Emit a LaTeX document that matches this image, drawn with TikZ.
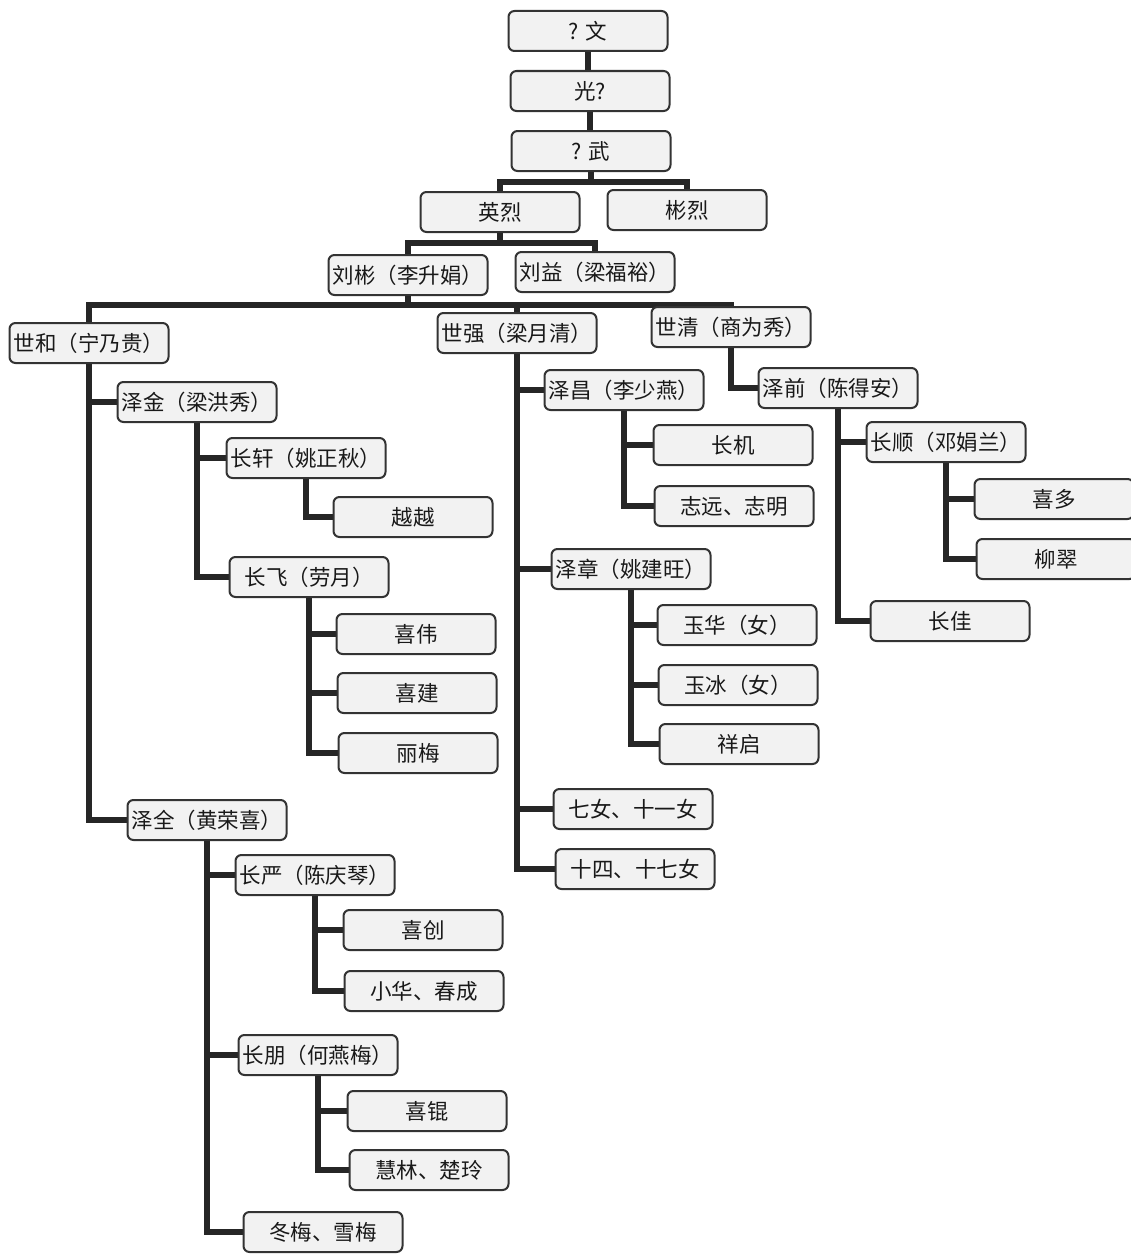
\documentclass[tikz,border=0pt]{standalone}
\usepackage{fontspec}
\newfontfamily\cjk{Noto Sans CJK SC}
\usetikzlibrary{backgrounds}
\tikzset{
  box/.style={draw=black!80, line width=2pt, rounded corners=6pt, fill=gray!10,
    minimum width=159pt, minimum height=40pt, inner xsep=1pt, inner ysep=2pt,
    font=\cjk\fontsize{21.5}{23}\selectfont, text=black!90},
  conn/.style={line width=5.5pt, draw=black!85, line join=miter}
}
\begin{document}
\begin{tikzpicture}[x=1pt,y=-1pt]
\useasboundingbox (0,0) rectangle (1131,1255);
% top lineage
\node[box] (wen) at (588,31) {? 文};
\node[box] (guang) at (590,91) {光?};
\node[box] (wu) at (591,151) {? 武};
\node[box] (yinglie) at (500,212) {英烈};
\node[box] (binlie) at (687,210) {彬烈};
\node[box] (liubin) at (408,275) {刘彬（李升娟）};
\node[box] (liuyi) at (595,272) {刘益（梁福裕）};
% generation shi
\node[box] (shihe) at (89,343) {世和（宁乃贵）};
\node[box] (shiqiang) at (517,333) {世强（梁月清）};
\node[box] (shiqing) at (731,327) {世清（商为秀）};
% shihe branch
\node[box] (zejin) at (197,402) {泽金（梁洪秀）};
\node[box] (changxuan) at (306,458) {长轩（姚正秋）};
\node[box] (yueyue) at (413,517) {越越};
\node[box] (changfei) at (309,577) {长飞（劳月）};
\node[box] (xiwei) at (416,634) {喜伟};
\node[box] (xijian) at (417,693) {喜建};
\node[box] (limei) at (418,753) {丽梅};
\node[box] (zequan) at (207,820) {泽全（黄荣喜）};
\node[box] (changyan) at (315,875) {长严（陈庆琴）};
\node[box] (xichuang) at (423,930) {喜创};
\node[box] (xiaohua) at (424,991) {小华、春成};
\node[box] (changpeng) at (318,1055) {长朋（何燕梅）};
\node[box] (xikun) at (427,1111) {喜锟};
\node[box] (huilin) at (429,1170) {慧林、楚玲};
\node[box] (dongmei) at (323,1232) {冬梅、雪梅};
% shiqiang branch
\node[box] (zechang) at (624,390) {泽昌（李少燕）};
\node[box] (changji) at (733,445) {长机};
\node[box] (zhiyuan) at (734,506) {志远、志明};
\node[box] (zezhang) at (631,569) {泽章（姚建旺）};
\node[box] (yuhua) at (737,625) {玉华（女）};
\node[box] (yubing) at (738,685) {玉冰（女）};
\node[box] (xiangqi) at (739,744) {祥启};
\node[box] (qinv) at (633,809) {七女、十一女};
\node[box] (shisi) at (635,869) {十四、十七女};
% shiqing branch
\node[box] (zeqian) at (838,388) {泽前（陈得安）};
\node[box] (changshun) at (946,442) {长顺（邓娟兰）};
\node[box] (xiduo) at (1054,499) {喜多};
\node[box] (liucui) at (1056,559) {柳翠};
\node[box] (changjia) at (950,621) {长佳};
% junctions
\coordinate (j1) at (591,182);
\coordinate (j2) at (500,243);
\coordinate (j3) at (408,305);
\begin{scope}[on background layer]
\fill[white] (0,0) rectangle (1131,1255);
\draw[conn] (wen.south) -- (wen.south |- guang.north);
\draw[conn] (guang.south) -- (guang.south |- wu.north);
\draw[conn] (wu.south) -- (j1);
\draw[conn] (yinglie.north) |- (j1) -| (binlie.north);
\draw[conn] (yinglie.south) -- (j2);
\draw[conn] (liubin.north) |- (j2) -| (liuyi.north);
\draw[conn] (liubin.south) -- (j3);
\draw[conn] (shihe.north) |- (j3) -| (shiqing.north);
\draw[conn] (j3 -| shiqiang.north) -- (shiqiang.north);
% shihe
\draw[conn] (shihe.south) |- (zejin.west);
\draw[conn] (shihe.south) |- (zequan.west);
\draw[conn] (zejin.south) |- (changxuan.west);
\draw[conn] (zejin.south) |- (changfei.west);
\draw[conn] (changxuan.south) |- (yueyue.west);
\draw[conn] (changfei.south) |- (xiwei.west);
\draw[conn] (changfei.south) |- (xijian.west);
\draw[conn] (changfei.south) |- (limei.west);
\draw[conn] (zequan.south) |- (changyan.west);
\draw[conn] (zequan.south) |- (changpeng.west);
\draw[conn] (zequan.south) |- (dongmei.west);
\draw[conn] (changyan.south) |- (xichuang.west);
\draw[conn] (changyan.south) |- (xiaohua.west);
\draw[conn] (changpeng.south) |- (xikun.west);
\draw[conn] (changpeng.south) |- (huilin.west);
% shiqiang
\draw[conn] (shiqiang.south) |- (zechang.west);
\draw[conn] (shiqiang.south) |- (zezhang.west);
\draw[conn] (shiqiang.south) |- (qinv.west);
\draw[conn] (shiqiang.south) |- (shisi.west);
\draw[conn] (zechang.south) |- (changji.west);
\draw[conn] (zechang.south) |- (zhiyuan.west);
\draw[conn] (zezhang.south) |- (yuhua.west);
\draw[conn] (zezhang.south) |- (yubing.west);
\draw[conn] (zezhang.south) |- (xiangqi.west);
% shiqing
\draw[conn] (shiqing.south) |- (zeqian.west);
\draw[conn] (zeqian.south) |- (changshun.west);
\draw[conn] (zeqian.south) |- (changjia.west);
\draw[conn] (changshun.south) |- (xiduo.west);
\draw[conn] (changshun.south) |- (liucui.west);
\end{scope}
\end{tikzpicture}
\end{document}
